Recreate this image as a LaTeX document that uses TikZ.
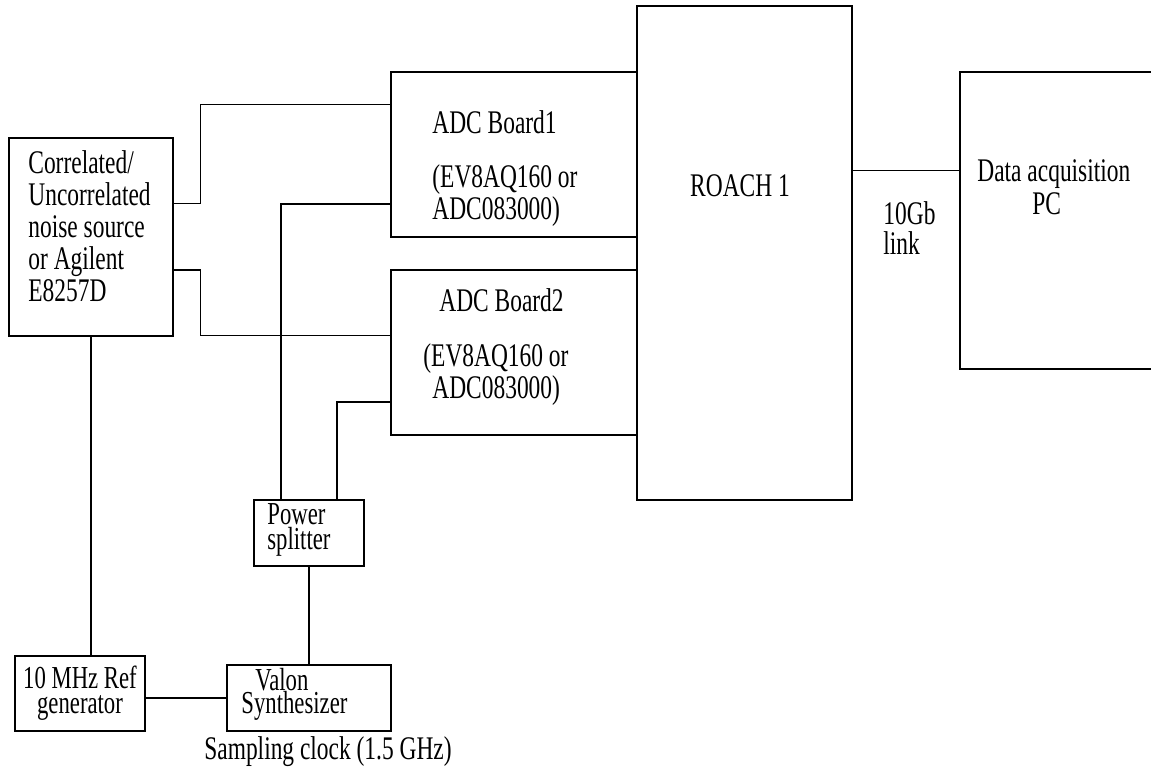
\documentclass[tikz,border=0pt]{standalone}
\usepackage{fontspec}
\setmainfont{Liberation Serif}[FakeStretch=0.71]
\usetikzlibrary{calc}

\begin{document}
\begin{tikzpicture}[
  x=0.5pt,y=-0.5pt,
  box/.style={draw,line width=0.8pt,inner sep=0pt,anchor=north west},
  wire/.style={line width=0.8pt},
  txt/.style={font=\fontsize{16.5}{16}\selectfont,inner sep=0pt,align=left,anchor=west}
]
\useasboundingbox (0,0) rectangle (1151,767);
\clip (0,0) rectangle (1151,767);

% source side
\node[box,minimum width=82pt,minimum height=99pt]   (noise) at (8,137) {};
\node[box,minimum width=65pt,minimum height=37.5pt] (ref)   at (14,655) {};
\node[box,minimum width=82pt,minimum height=33pt]   (valon) at (226,664) {};
\node[box,minimum width=55pt,minimum height=33pt]   (split) at (253,499) {};

% ADC boards and ROACH
\node[box,minimum width=123pt,minimum height=82.5pt] (adc1)  at (390,71) {};
\node[box,minimum width=123pt,minimum height=82.5pt] (adc2)  at (390,269) {};
\node[box,minimum width=107.5pt,minimum height=247pt] (roach) at (636,5) {};
\node[box,minimum width=110pt,minimum height=148.5pt] (pc)    at (959,71) {};

% texts
\node[txt] (noisetxt) at (28,226) {Correlated/\\Uncorrelated\\noise source\\or Agilent\\E8257D};
\node[txt,align=center,anchor=center,font=\fontsize{16}{12.5}\selectfont] (reftxt) at (80,693) {10 MHz Ref\\generator};
\node[txt,font=\fontsize{16}{11.5}\selectfont] (valontxt) at (241,694) {\hspace*{7pt}Valon\\Synthesizer};
\node[txt,font=\fontsize{16}{12.5}\selectfont] (splittxt) at (267,530) {Power\\splitter};
\node[txt] (adc1a) at (432,122) {ADC Board1};
\node[txt] (adc1b) at (432,196) {(EV8AQ160 or\\ADC083000)};
\node[txt] (adc2a) at (439,300) {ADC Board2};
\node[txt,font=\fontsize{16.5}{13}\selectfont] (adc2b) at (423,375) {(EV8AQ160 or\\\hspace*{4.5pt}ADC083000)};
\node[txt,anchor=center] (roachtxt) at (740,186) {ROACH 1};
\node[txt,font=\fontsize{16.5}{16.5}\selectfont] (pctxt) at (977,187) {Data acquisition\\\hspace*{27.5pt}PC};
\node[txt,font=\fontsize{16.5}{15}\selectfont] (linktxt) at (883,228) {10Gb\\link};
\node[txt,anchor=center] (clktxt) at (328,752) {Sampling clock (1.5 GHz)};

% noise source to ADCs
\draw[wire] ($(noise.north east)!1/3!(noise.south east)$) -- ++(27,0)
  |- ($(adc1.north west)!0.2!(adc1.south west)$);
\draw[wire] ($(noise.north east)!2/3!(noise.south east)$) -- ++(27,0)
  |- ($(adc2.north west)!0.4!(adc2.south west)$);

% clock distribution
\draw[wire] ($(split.north west)!0.25!(split.north east)$)
  |- ($(adc1.north west)!0.8!(adc1.south west)$);
\draw[wire] ($(split.north west)!0.75!(split.north east)$)
  |- ($(adc2.north west)!0.8!(adc2.south west)$);
\draw[wire] (split.south) -- (valon.north);
\draw[wire] (noise.south) -- (noise.south |- ref.north);
\draw[wire] (ref.east |- valon.west) -- (valon.west);

% 10Gb link
\coordinate (lnk) at ($(roach.north east)!0.334!(roach.south east)$);
\draw[wire] (lnk) -- (lnk -| pc.west);

\end{tikzpicture}
\end{document}
